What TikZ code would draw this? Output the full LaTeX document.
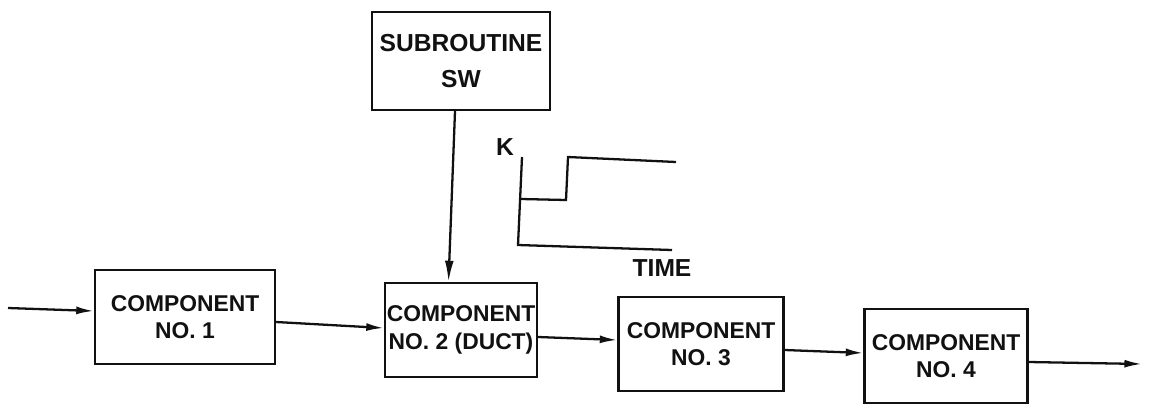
\documentclass[tikz,border=0pt]{standalone}
\usepackage{fontspec}
\setmainfont{Liberation Sans}
\usetikzlibrary{arrows.meta, positioning}
\definecolor{inkline}{HTML}{111111}

\begin{document}
\begin{tikzpicture}[x=0.02cm, y=-0.02cm,
                    every node/.style={font=\fontsize{13}{15.5}\selectfont\bfseries, text=inkline},
                    compbox/.style={rectangle, draw=inkline, line width=1.3pt,
                                    align=center, minimum height=1.88cm, inner sep=1pt},
                    flow/.style={draw=inkline, line width=1.3pt,
                                 -{Latex[length=10pt, width=4.5pt]}},
                    trace/.style={draw=inkline, line width=1.3pt}]
  \useasboundingbox (0,0) rectangle (1151,406);
  % chain of components
  \node[compbox, minimum width=3.6cm] (comp1) at (185,317) {COMPONENT\\NO. 1};
  \node[compbox, minimum width=2.94cm] (comp2) at (461,330) {COMPONENT\\NO. 2 (DUCT)};
  \node[compbox, minimum width=3.3cm] (comp3) at (701,344) {COMPONENT\\NO. 3};
  \node[compbox, minimum width=3.26cm] (comp4) at (946,356) {COMPONENT\\NO. 4};
  \node[compbox, minimum width=3.56cm, minimum height=1.96cm,
        font=\fontsize{14}{21}\selectfont\bfseries]
    (sub) at (461,61) {SUBROUTINE\\SW};
  \coordinate (in) at (8,308);
  \coordinate (out) at (1142,364);
  \draw[flow] (in) -- ([yshift=0.12cm]comp1.west);
  \draw[flow] ([yshift=-0.1cm]comp1.east) -- ([yshift=0.04cm]comp2.west);
  \draw[flow] ([yshift=-0.14cm]comp2.east) -- ([yshift=0.08cm]comp3.west);
  \draw[flow] ([yshift=-0.12cm]comp3.east) -- ([yshift=0.06cm]comp4.west);
  \draw[flow] ([yshift=-0.12cm]comp4.east) -- (out);
  \draw[draw=inkline, line width=1.3pt, -{Latex[length=12pt, width=5pt]}]
    ([xshift=-0.12cm]sub.south) -- ([xshift=-0.25cm]comp2.north);
  % switching curve K(t)
  \node[font=\fontsize{14}{16}\selectfont\bfseries] (klabel) at (505,147) {K};
  \node[font=\fontsize{14}{16}\selectfont\bfseries] (tlabel) at (662,268) {TIME};
  \draw[trace] (522,157) -- (518,245) -- (672,250);
  \draw[trace] (521,199) -- (566,200) -- (568,157) -- (676,162);
\end{tikzpicture}
\end{document}
